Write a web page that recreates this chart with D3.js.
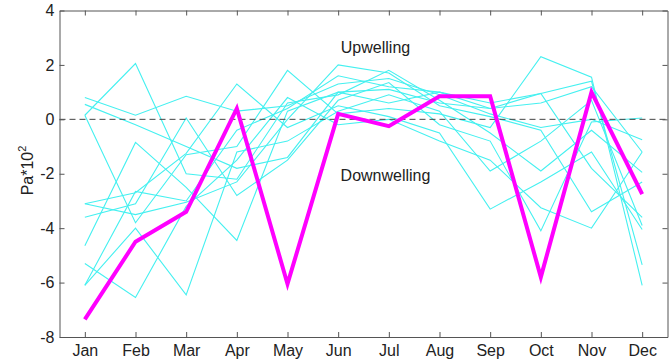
<html><head>
<meta charset="utf-8">
<script src="https://cdn.jsdelivr.net/npm/d3@7"></script>
<style>
  body { margin: 0; background: #fff; }
  text { font-family: "Liberation Sans", Arial, sans-serif; fill: #222; }
  .cyan { fill: none; stroke: #45f0f0; stroke-width: 1.1px; }
  .mean { fill: none; stroke: #ff00ff; stroke-width: 4px; stroke-linejoin: miter; }
</style>
</head>
<body>
<script>
var months = ["Jan","Feb","Mar","Apr","May","Jun","Jul","Aug","Sep","Oct","Nov","Dec"];
var yTicks = [-8, -6, -4, -2, 0, 2, 4];

// individual years (cyan)
var yearA = [0.8, 0.15, 0.85, 0.3, 0.5, 1.3, 1.5, 0.9, 0.2, -0.3, 0.0, -0.75];
var yearB = [0.55, -0.2, -1.0, -1.8, -1.4, 1.0, 1.1, 0.6, 0.4, 0.95, -1.8, -3.6];
var yearC = [0.15, 2.05, -2.0, -2.2, 0.6, 0.9, 1.8, 0.7, -0.5, -1.9, -0.4, -1.95];
var yearD = [0.15, -3.8, -1.3, -1.0, 1.8, 0.2, 0.4, 0.2, -0.3, 2.3, 1.55, -6.1];
var yearE = [-3.1, -2.7, -1.25, 1.3, -0.3, 0.5, 0.1, -0.5, -3.3, -2.3, -1.2, -4.05];
var yearF = [-3.1, -3.5, -3.05, -2.3, 0.0, 2.0, 1.7, 0.5, 0.1, -0.4, -3.4, -2.3];
var yearG = [-3.6, -3.1, 0.05, -2.8, -1.5, 0.7, 1.35, -0.2, -0.8, -4.1, -0.1, 0.05];
var yearH = [-4.65, -0.85, -2.5, -4.45, 0.3, 1.0, 0.6, 1.0, 0.6, 0.95, 1.4, -5.35];
var yearI = [-5.3, -6.55, -3.2, -1.5, 0.8, -0.2, 0.0, -0.8, -1.5, -3.25, -4.0, -1.2];
var yearJ = [-6.1, -4.0, -6.45, -1.2, -0.8, 0.3, 0.9, 0.3, -1.9, -0.8, 0.7, -3.9];
var yearK = [-6.1, -2.65, -3.0, -0.4, 0.4, 1.6, 1.2, 1.0, 0.4, 0.6, 1.2, -1.2];
// highlighted year (magenta)
var highlight = [-7.35, -4.5, -3.4, 0.4, -6.05, 0.2, -0.25, 0.85, 0.85, -5.8, 1.0, -2.75];

var years = [yearA, yearB, yearC, yearD, yearE, yearF, yearG, yearH, yearI, yearJ, yearK];

var margin = {top: 10.5, right: 1.5, bottom: 27, left: 59.5},
    width = 669 - margin.left - margin.right,
    height = 364 - margin.top - margin.bottom;

var x = d3.scaleLinear().domain([0.5, 12.5]).range([0, width]);
var y = d3.scaleLinear().domain([-8, 4]).range([height, 0]);

var svg = d3.select("body").append("svg")
    .attr("width", 669).attr("height", 364)
  .append("g")
    .attr("transform", "translate(" + margin.left + "," + margin.top + ")");

var line = d3.line()
    .x(function(d, i) { return x(i + 1); })
    .y(function(d) { return y(d); });

svg.selectAll(".cyan").data(years).enter().append("path")
    .attr("class", "cyan")
    .attr("d", line);

// zero line
svg.append("line")
    .attr("x1", 0).attr("x2", width)
    .attr("y1", y(0)).attr("y2", y(0))
    .attr("stroke", "#444").attr("stroke-width", 1)
    .attr("stroke-dasharray", "6,4");

svg.append("path").datum(highlight)
    .attr("class", "mean")
    .attr("d", line);

// axes, MATLAB style box with inward ticks
var tickVals = d3.range(1, 13);
function styleAxis(g) {
  g.selectAll("path.domain").attr("stroke", "#555");
  g.selectAll(".tick line").attr("stroke", "#555");
  g.selectAll("text").attr("font-size", 16).attr("fill", "#222")
    .attr("font-family", "'Liberation Sans', Arial, sans-serif");
}

svg.append("g")
    .attr("transform", "translate(0," + height + ")")
    .call(d3.axisBottom(x).tickValues(tickVals)
      .tickFormat(function(d) { return months[d - 1]; })
      .tickSizeInner(-5).tickSizeOuter(0).tickPadding(8))
    .call(styleAxis);

svg.append("g")
    .call(d3.axisTop(x).tickValues(tickVals).tickFormat("")
      .tickSizeInner(-5).tickSizeOuter(0))
    .call(styleAxis);

svg.append("g")
    .call(d3.axisLeft(y).tickValues(yTicks)
      .tickFormat(function(d) { return String(d); })
      .tickSizeInner(-5).tickSizeOuter(0).tickPadding(5))
    .call(styleAxis);

svg.append("g")
    .attr("transform", "translate(" + width + ",0)")
    .call(d3.axisRight(y).tickValues(yTicks).tickFormat("")
      .tickSizeInner(-5).tickSizeOuter(0))
    .call(styleAxis);

svg.append("text")
    .attr("x", 316).attr("y", 42)
    .attr("text-anchor", "middle").attr("font-size", 16)
    .text("Upwelling");

svg.append("text")
    .attr("x", 326).attr("y", 170)
    .attr("text-anchor", "middle").attr("font-size", 16)
    .text("Downwelling");

var ylab = svg.append("text")
    .attr("transform", "translate(-27,160) rotate(-90)")
    .attr("text-anchor", "middle").attr("font-size", 16);
ylab.append("tspan").text("Pa*10");
ylab.append("tspan").attr("dy", -7).attr("font-size", 11).text("2");
</script>
</body></html>
